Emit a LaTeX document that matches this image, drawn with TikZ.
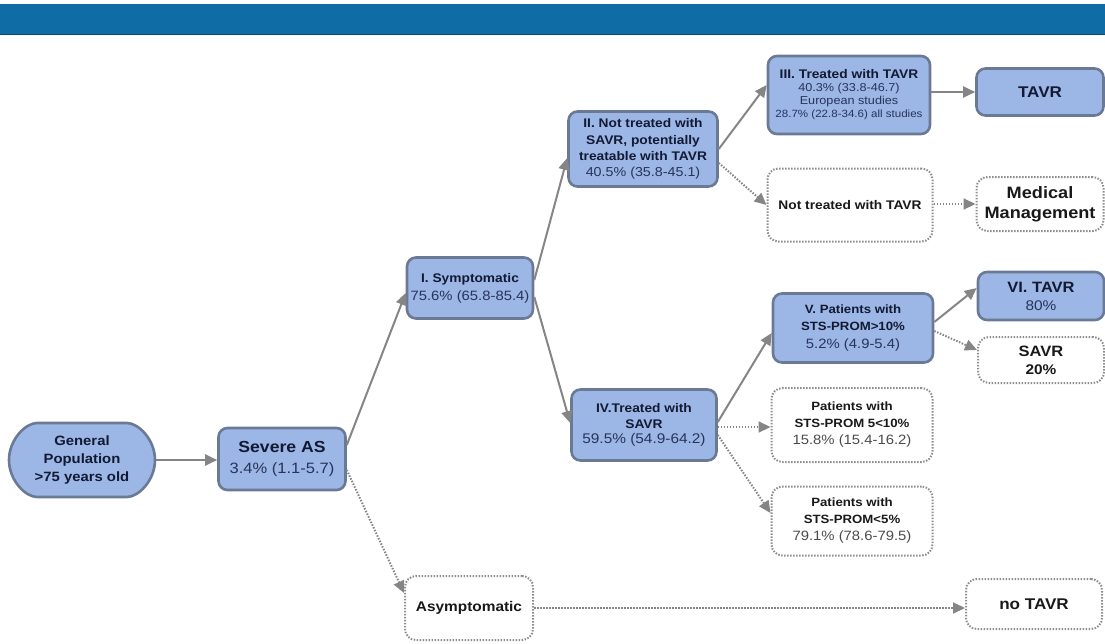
\documentclass[tikz,border=0pt]{standalone}
\usepackage{fontspec}
\setmainfont{Liberation Sans}[FakeStretch=1.1]
\usetikzlibrary{arrows.meta,positioning,shapes.misc}

\definecolor{banner}{HTML}{0F6CA5}
\definecolor{boxfill}{HTML}{9CB6E6}
\definecolor{boxline}{HTML}{6B7A94}
\definecolor{linkgray}{HTML}{858585}
\definecolor{dotgray}{HTML}{8E8E8E}
\definecolor{titletext}{HTML}{121A33}
\definecolor{valtext}{HTML}{27345C}

\newcommand{\boxval}[1]{{\mdseries\color{valtext}#1}}
\newcommand{\dotval}[1]{{\mdseries\color{black!70}#1}}
\newcommand{\fsz}[2]{\fontsize{#1}{#2}\selectfont}

\begin{document}
\begin{tikzpicture}[x=1pt,y=-1pt,
  solidbox/.style={draw=boxline, line width=2.6pt, fill=boxfill, rounded corners=9pt,
    align=center, text=titletext, inner sep=2pt},
  dotbox/.style={draw=dotgray, line width=2pt, dash pattern=on 1.5pt off 1.5pt,
    fill=white, rounded corners=11pt, align=center, text=black!90, inner sep=2pt},
  link/.style={draw=linkgray, line width=2pt, -{Triangle[length=12pt,width=11pt]}},
  dotlink/.style={link, dash pattern=on 1.5pt off 1.5pt}]

\useasboundingbox (0,0) rectangle (1105,643);

% --- Banner ---
\fill[banner] (0,4) rectangle (1105,35);
\draw[banner!70!black, line width=1.2pt] (0,34.5) -- (1105,34.5);

% --- Nodes ---
\node[solidbox, rounded rectangle, minimum width=150pt, minimum height=74pt,
  font=\fsz{13.5}{18}\bfseries] (gp) at (82,460) {General\\Population\\>75 years old};
\node[solidbox, minimum width=127pt, minimum height=62pt, font=\fsz{15}{21}] (sev) at (282,459)
  {{\bfseries\fsz{16}{21}Severe AS}\\\boxval{3.4\% (1.1-5.7)}};

\node[solidbox, minimum width=126pt, minimum height=61pt, font=\fsz{13.5}{18}] (sym) at (470,288)
  {{\bfseries\fsz{12.5}{18}I. Symptomatic}\\\boxval{75.6\% (65.8-85.4)}};
\node[dotbox, minimum width=128pt, minimum height=64pt, font=\fsz{14}{18}\bfseries] (asym) at (469,608)
  {Asymptomatic};

\node[solidbox, minimum width=149pt, minimum height=75pt, font=\fsz{12.5}{16.3}\bfseries] (notsavr) at (643,149)
  {II. Not treated with\\SAVR, potentially\\treatable with TAVR\\\boxval{\fsz{13}{16.3}40.5\% (35.8-45.1)}};
\node[solidbox, minimum width=145pt, minimum height=71pt, font=\fsz{12.5}{15.5}\bfseries] (tsavr) at (644,425)
  {IV.Treated with\\SAVR\\\boxval{\fsz{14}{15.5}59.5\% (54.9-64.2)}};

\node[solidbox, minimum width=162pt, minimum height=78pt, font=\fsz{11.5}{13}] (ttavr) at (849,95)
  {{\bfseries\fsz{12.5}{13}III. Treated with TAVR}\\\boxval{40.3\% (33.8-46.7)}\\\boxval{European studies}\\
   \boxval{\fsz{10.5}{13}28.7\% (22.8-34.6) all studies}};
\node[dotbox, minimum width=165pt, minimum height=73pt, font=\fsz{12.5}{16}\bfseries] (nottavr) at (850,205)
  {Not treated with TAVR};
\node[solidbox, minimum width=160pt, minimum height=69pt, font=\fsz{12}{17.5}\bfseries] (sts10) at (853,328)
  {V. Patients with\\STS-PROM>10\%\\\boxval{\fsz{13.5}{17.5}5.2\% (4.9-5.4)}};
\node[dotbox, minimum width=161pt, minimum height=74pt, font=\fsz{12}{17}\bfseries] (sts510) at (852,425)
  {Patients with\\STS-PROM 5<10\%\\\dotval{\fsz{13.5}{17}15.8\% (15.4-16.2)}};
\node[dotbox, minimum width=161pt, minimum height=69pt, font=\fsz{12}{17}\bfseries] (sts5) at (852,521)
  {Patients with\\STS-PROM<5\%\\\dotval{\fsz{13.5}{17}79.1\% (78.6-79.5)}};

\node[solidbox, minimum width=127pt, minimum height=47pt, font=\fsz{15.5}{18}\bfseries] (tavr) at (1040,92)
  {TAVR};
\node[dotbox, minimum width=127pt, minimum height=54pt, font=\fsz{16.5}{20}\bfseries] (medical) at (1040,204)
  {Medical\\Management};
\node[solidbox, minimum width=126pt, minimum height=48pt, font=\fsz{14}{18}] (vitavr) at (1041,296)
  {{\bfseries\fsz{15}{18}VI. TAVR}\\\boxval{80\%}};
\node[dotbox, minimum width=126pt, minimum height=46pt, font=\fsz{15}{18}\bfseries] (savr) at (1041,360)
  {SAVR\\{\fsz{14}{18}20\%}};
\node[dotbox, minimum width=136pt, minimum height=50pt, font=\fsz{15.5}{18}\bfseries] (notavr) at (1034,604)
  {no TAVR};

% --- Connectors ---
\draw[link] (gp.east) -- (sev.west |- gp.east);
\draw[link] ([yshift=14pt]sev.east) -- ([yshift=-5pt]sym.west);
\draw[dotlink] ([yshift=-11pt]sev.east) -- ([yshift=15pt]asym.west);
\draw[link] ([yshift=8pt]sym.east) -- ([yshift=-9pt]notsavr.west);
\draw[link] ([yshift=-9pt]sym.east) -- ([yshift=2pt]tsavr.west);
\draw[link] (notsavr.east) -- ([yshift=10pt]ttavr.west);
\draw[dotlink] ([yshift=-14pt]notsavr.east) -- (nottavr.west);
\draw[link] (ttavr.east |- tavr.west) -- (tavr.west);
\draw[dotlink] (nottavr.east |- medical.west) -- (medical.west);
\draw[link] ([yshift=3pt]tsavr.east) -- ([yshift=-5pt]sts10.west);
\draw[dotlink] ([yshift=-2pt]tsavr.east) -- ([yshift=-2pt]tsavr.east -| sts510.west);
\draw[dotlink] ([yshift=-10pt]tsavr.east) -- ([yshift=8pt]sts5.west);
\draw[link] ([yshift=6pt]sts10.east) -- ([yshift=8pt]vitavr.west);
\draw[dotlink] ([yshift=-3pt]sts10.east) -- ([yshift=10pt]savr.west);
\draw[dotlink] (asym.east) -- (asym.east -| notavr.west);

\end{tikzpicture}
\end{document}
